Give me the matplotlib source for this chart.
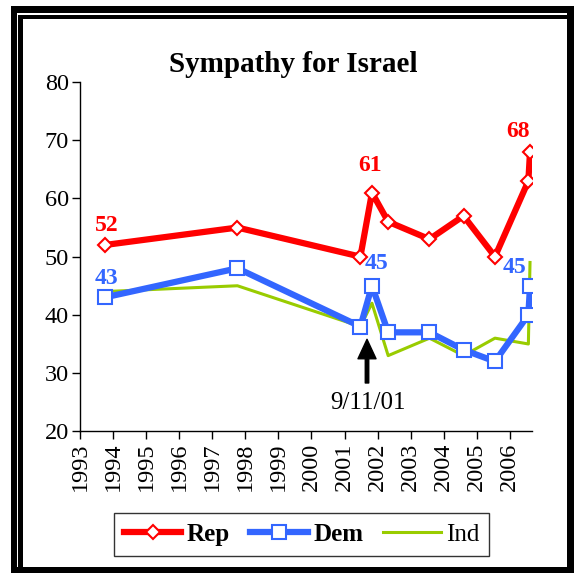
import matplotlib
matplotlib.use("Agg")
import matplotlib.pyplot as plt
from matplotlib.patches import Rectangle

plt.rcParams['font.family'] = ['Liberation Serif', 'DejaVu Serif']

# survey dates (decimal years) and % sympathizing with Israel
years = [1993.75, 1997.76, 2001.48, 2001.83, 2002.32, 2003.57, 2004.6, 2005.55, 2006.56, 2006.61]
rep = [52, 55, 50, 61, 56, 53, 57, 50, 63, 68]
dem = [43, 48, 38, 45, 37, 37, 34, 32, 40, 45]
ind = [44, 45, 38, 42, 33, 36, 33, 36, 35, 49]

tick_years = list(range(1993, 2007))

RED = '#FF0000'
BLUE = '#3366FF'
GREEN = '#99CC00'

W, H = 574, 573
fig = plt.figure(figsize=(W / 100, H / 100), dpi=100)


def px_rect(x0, y0, x1, y1, color):
    # pixel box with top-left origin -> figure fraction
    r = Rectangle((x0 / W, 1 - y1 / H), (x1 - x0) / W, (y1 - y0) / H,
                  transform=fig.transFigure, facecolor=color, edgecolor='none', zorder=-10)
    fig.add_artist(r)


# double frame around the chart
px_rect(11, 6, 574, 573, 'black')
px_rect(16.5, 12.7, 566.7, 566.7, 'white')
px_rect(17.6, 14.7, 566.7, 566.7, 'black')
px_rect(23.5, 19, 566.7, 566.7, 'white')

ax = fig.add_axes([80 / W, 1 - 431.3 / H, (532 - 80) / W, (431.3 - 82) / H])
ax.patch.set_alpha(0)

ax.plot(years, ind, color=GREEN, lw=2.2, label='Ind', zorder=2)
ax.plot(years, dem, color=BLUE, lw=4.5, marker='s', ms=10, mfc='white', mec=BLUE, mew=1.5,
        label='Dem', zorder=3)
ax.plot(years, rep, color=RED, lw=4.5, marker='D', ms=7.5, mfc='white', mec=RED, mew=1.5,
        label='Rep', zorder=4)

ax.set_xlim(1993, 2006.67)
ax.set_ylim(20, 80)
ax.set_yticks([20, 30, 40, 50, 60, 70, 80])
ax.set_xticks(tick_years)
ax.set_xticklabels([str(y) for y in tick_years], rotation=90)
ax.tick_params(labelsize=17.5, direction='out', length=6, width=1, color='black', pad=2)
for s in ['top', 'right']:
    ax.spines[s].set_visible(False)
for s in ['left', 'bottom']:
    ax.spines[s].set_linewidth(1)

# value labels
lab = dict(fontsize=17, fontweight='bold', ha='center', va='center')
ax.text(1993.8, 55.3, '52', color=RED, **lab)
ax.text(1993.8, 46.2, '43', color=BLUE, **lab)
ax.text(2001.78, 65.6, '61', color=RED, **lab)
ax.text(2001.98, 48.9, '45', color=BLUE, **lab)
ax.text(2006.25, 71.5, '68', color=RED, **lab)
ax.text(2006.15, 48.2, '45', color=BLUE, **lab)

# 9/11 marker
ax.annotate('', xy=(2001.68, 35.8), xytext=(2001.68, 28.3),
            arrowprops=dict(facecolor='black', edgecolor='black', width=2.5,
                            headwidth=13, headlength=14, shrink=0))
ax.text(2001.72, 24.8, '9/11/01', fontsize=18, ha='center', va='center')

fig.text(293 / W, 1 - 65 / H, 'Sympathy for Israel', fontsize=21, fontweight='bold',
         ha='center', va='center')

handles, labels = ax.get_legend_handles_labels()
order = [2, 1, 0]
leg = fig.legend([handles[i] for i in order], [labels[i] for i in order],
                 loc='center', bbox_to_anchor=(301.6 / W, 1 - 534.5 / H), ncol=3,
                 fontsize=18, frameon=True, fancybox=False, edgecolor='black',
                 handlelength=2.3, handletextpad=0.22, columnspacing=0.8, borderpad=0.4)
leg.get_frame().set_linewidth(1)
for t in leg.get_texts():
    if t.get_text() in ('Rep', 'Dem'):
        t.set_fontweight('bold')

fig.savefig('out.png', dpi=100)
